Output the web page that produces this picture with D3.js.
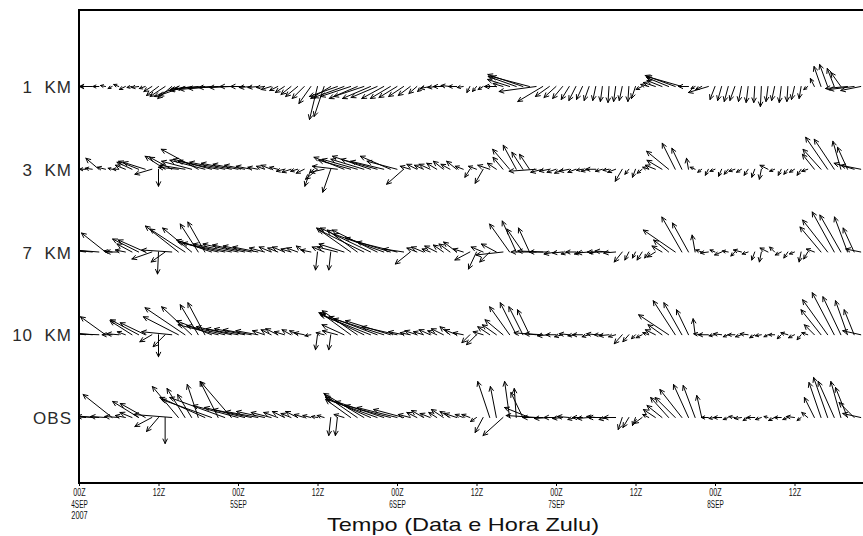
<!DOCTYPE html>
<html>
<head>
<meta charset="utf-8">
<script src="https://cdn.jsdelivr.net/npm/d3@7"></script>
<style>
  body { margin: 0; background: #fff; }
  svg { display: block; }
  .rowlab text { white-space: pre; }
</style>
</head>
<body>
<svg id="chart" width="863" height="536"></svg>
<script>
// Hourly wind vectors, 00Z 4SEP 2007 onwards (one value per hour).
// u: eastward component, v: northward component.
const rowNames = ["1  KM", "3  KM", "7  KM", "10  KM", "OBS"];

const u1km = [
  -3,-5,-13,-6,-5,-4,-5,-6,-5,-7,-6,-8,
  -12,-15,-14,-24,-26,-22,-28,-30,-32,-30,-26,-22,
  -18,-14,-12,-10,-8,-10,-8,-9,-10,-12,-12,-12,
  -8,-10,-20,-28,-30,-30,-28,-30,-28,-26,-22,-20,
  -18,-15,-12,-8,-6,-10,-9,-10,-9,-8,-6,-3,
  -4,-5,-2,-12,-10,-22,-28,-35,-38,-37,-25,-14,
  -12,-10,-8,-7,-6,-5,-3,-2,-1,-2,-3,-1,
  -4,-6,-8,-12,-15,-22,-30,-35,-10,-4,-6,-20,
  -5,-4,-4,-5,-3,-2,-1,-1,-2,-3,-2,-1,
  -3,-2,-4,-4,-7,-8,-7,-10,-22,-25,-20
];
const v1km = [
  0,0,0,0,1,-2,2,-3,-1,-1,-2,-5,
  -9,-10,-12,-10,-9,-4,-3,-2,-3,-2,-1,-1,
  0,0,-1,-1,-1,-3,-4,-6,-8,-10,-12,-17,
  -33,-30,-12,-10,-11,-10,-12,-10,-12,-11,-12,-12,
  -11,-10,-9,-7,-5,-2,-1,0,1,0,-1,-6,
  -5,-3,0,0,3,7,10,12,10,-5,-15,-10,
  -11,-12,-13,-14,-13,-14,-14,-15,-16,-15,-14,-15,
  -12,-3,2,4,6,9,11,10,0,-2,-3,-6,
  -13,-14,-15,-14,-15,-16,-16,-20,-15,-14,-16,-15,
  -13,-12,-3,8,20,22,18,14,-2,-3,-4
];

const u3km = [
  -5,-6,-7,-13,-8,-4,-6,-10,-15,-20,-22,-17,
  0,-20,-22,-20,-25,-30,-37,-35,-38,-40,-35,-30,
  -25,-20,-15,-10,-8,-10,-8,-8,-9,-7,-8,-6,
  -12,-14,-8,-25,-30,-32,-35,-33,-38,-36,-33,-30,
  -30,-17,-10,-10,-9,-11,-10,-10,-9,-10,-8,-5,
  -8,-8,-12,-9,-10,-17,-13,-11,-10,-27,-12,-10,
  -9,-8,-10,-8,-6,-8,-10,-7,-6,-8,-7,-4,
  -3,-5,-6,-10,-15,-22,-13,-10,-2,-5,-4,-3,
  -5,-3,-4,-6,-5,-4,-3,-2,-8,-5,-3,-4,
  -5,-4,-6,-12,-18,-22,-20,-8,-10,-20,-20
];
const v3km = [
  0,0,1,11,2,1,0,4,7,8,7,-5,
  -17,13,12,2,4,8,20,9,10,8,7,6,
  5,4,3,2,3,4,2,-2,-3,-2,-4,-17,
  -10,-3,-23,3,12,9,10,10,13,10,8,13,
  8,-15,3,5,4,5,6,8,5,8,3,-8,
  3,-14,4,6,12,20,24,17,15,-2,-3,-2,
  -3,-4,-2,-3,-1,-2,0,-2,-1,-3,-12,-5,
  -8,-4,2,4,9,18,26,21,11,2,-3,-6,
  -2,-7,-5,-2,-3,-6,-8,-10,4,-2,-6,-5,
  -3,-6,-2,15,20,32,30,28,22,6,4
];

const u7km = [
  -8,-15,-20,-25,-24,-8,-13,-10,-15,-26,-27,-20,
  -1,-14,-30,-33,-35,-29,-18,-17,-35,-40,-42,-38,
  -35,-32,-28,-25,-15,-12,-10,-12,-10,-11,-8,-10,
  -2,-12,-2,-20,-25,-34,-30,-45,-50,-45,-50,-45,
  -40,-20,-15,-10,-12,-8,-12,-10,-11,-13,-10,-15,
  -8,-12,-10,-15,-27,-20,-14,-16,-11,-25,-25,-20,
  -12,-10,-8,-10,-8,-12,-6,-15,-14,-12,-8,-4,
  -3,-5,-4,-8,-10,-15,-32,-20,-16,-3,-6,-8,
  -5,-7,-6,-4,-8,-6,-3,-2,-8,-5,-6,-4,
  -5,-2,-4,-8,-21,-25,-22,-21,-13,-11,-15
];
const v7km = [
  1,2,2,2,19,1,0,2,8,13,12,-7,
  -22,-10,2,26,23,24,28,30,12,10,9,8,
  8,7,6,5,4,5,4,5,3,4,6,2,
  -18,5,-18,5,8,24,22,22,24,22,18,14,
  10,3,-12,4,5,3,6,7,8,10,3,-8,
  -17,5,-10,8,-3,28,31,23,24,0,1,0,
  -2,-1,-2,0,-2,-1,-1,0,1,-1,-10,-8,
  -6,-8,-6,-5,6,12,22,35,29,17,2,-1,
  2,-3,1,-4,2,-2,-8,-10,4,5,-3,-6,
  -2,-10,-7,3,25,32,40,37,35,24,3
];

const u10km = [
  -10,-18,-22,-26,-25,-10,-12,-8,-22,-28,-25,-12,
  0,-12,-30,-35,-40,-30,-18,-17,-35,-40,-38,-35,
  -32,-30,-28,-22,-12,-10,-12,-10,-9,-8,-10,-6,
  -2,-8,-2,-15,-22,-30,-35,-45,-50,-48,-50,-45,
  -35,-15,-10,-12,-10,-11,-9,-12,-10,-12,-10,-8,
  -10,-10,-12,-14,-18,-20,-16,-14,-12,-22,-18,-12,
  -10,-8,-10,-8,-10,-7,-9,-8,-10,-7,-8,-6,
  -4,-6,-6,-10,-14,-30,-22,-18,-12,-2,-8,-10,
  -6,-8,-5,-7,-6,-8,-5,-6,-4,-6,-4,-7,
  -6,-4,-6,-10,-20,-25,-22,-18,-12,-10,-18
];
const v10km = [
  1,2,2,1,18,0,1,3,14,15,12,-7,
  -22,-12,3,18,27,28,30,32,14,10,9,8,
  6,6,5,4,4,5,6,3,5,4,2,-1,
  -15,2,-15,4,10,22,24,22,20,18,16,14,
  8,3,2,4,3,5,4,6,8,5,2,-8,
  -10,3,8,10,15,28,32,28,25,2,1,-1,
  0,-2,1,-1,0,-2,1,0,-1,-2,-9,-7,
  -4,-3,2,5,10,20,34,32,25,16,1,0,
  -1,1,-2,0,-2,1,-3,-1,-2,0,-4,2,
  -3,-5,2,10,25,35,42,38,34,25,4
];

const uObs = [
  -8,-12,-18,-22,-15,-29,-14,-10,-12,-26,-25,-17,
  -12,0,-38,-26,-18,-14,-11,-45,-50,-18,-55,-31,
  -45,-40,-38,-32,-28,-20,-14,-12,-10,-12,-10,-8,
  -6,-7,-2,-2,-10,-25,-32,-40,-45,-50,-48,-45,
  -40,-30,-12,-10,-12,-10,-8,-12,-10,-12,-8,-8,
  -6,-8,-12,-6,-20,-5,-2,-12,-25,-30,-20,-15,
  -12,-10,-12,-8,-10,-12,-9,-14,-10,-12,-4,-6,
  -3,-8,-6,-12,-15,-18,-20,-22,-15,-12,-5,-7,
  -6,-8,-5,-6,-7,-5,-8,-6,-4,-6,-7,-5,
  -8,-4,-6,-10,-12,-14,-16,-10,-12,-15,-18
];
const vObs = [
  1,1,2,1,1,23,1,2,5,16,14,-9,
  -14,-26,3,31,29,23,33,20,18,36,20,36,
  12,10,8,6,6,5,5,6,4,6,3,2,
  1,2,-18,-18,3,18,22,24,20,18,16,12,
  10,8,3,5,7,4,5,8,6,4,3,3,
  -4,-15,36,31,-18,36,29,25,10,2,0,-1,
  0,-1,1,-2,0,-1,1,0,-2,0,-12,-10,
  -8,-6,3,8,12,20,20,28,33,32,22,0,
  -1,0,-2,1,-1,-3,0,-2,1,-3,0,-2,
  1,-3,5,20,35,40,36,36,30,15,4
];

// Time axis labels, one per 12-hour tick
const hourLabels = ["00Z","12Z","00Z","12Z","00Z","12Z","00Z","12Z","00Z","12Z"];
const dayLabels  = ["4SEP","","5SEP","","6SEP","","7SEP","","8SEP",""];
const yearLabels = ["2007","","","","","","","","",""];
const xTitle = "Tempo (Data e Hora Zulu)";

const startTime = new Date(Date.UTC(2007, 8, 4, 0));
const endTime   = new Date(Date.UTC(2007, 8, 9, 0));

const series = [
  { name: rowNames[0], u: u1km,  v: v1km },
  { name: rowNames[1], u: u3km,  v: v3km },
  { name: rowNames[2], u: u7km,  v: v7km },
  { name: rowNames[3], u: u10km, v: v10km },
  { name: rowNames[4], u: uObs,  v: vObs }
];

const svg = d3.select("#chart");
const plot = { left: 79, right: 874, top: 10, bottom: 483 };

const x = d3.scaleUtc().domain([startTime, endTime]).range([plot.left, plot.right]);
const y = d3.scalePoint().domain(rowNames).range([86.5, 417.5]);
const vecLen = d3.scaleLinear().domain([0, 10]).range([0, 10]); // px per vector unit

// clip vectors to the frame
svg.append("defs").append("clipPath").attr("id", "plot-clip")
  .append("rect")
  .attr("x", plot.left + 1).attr("y", plot.top + 1)
  .attr("width", plot.right - plot.left - 2)
  .attr("height", plot.bottom - plot.top - 2);

function arrowPath(x1, y1, u, v) {
  const dx = vecLen(u), dy = -vecLen(v);
  const L = Math.hypot(dx, dy);
  if (L < 0.5) return "";
  const x2 = x1 + dx, y2 = y1 + dy;
  const a = Math.atan2(dy, dx);
  const h = Math.min(5, 1.6 + 0.3 * L);
  const w = 0.45;
  const p1 = [x2 - h * Math.cos(a - w), y2 - h * Math.sin(a - w)];
  const p2 = [x2 - h * Math.cos(a + w), y2 - h * Math.sin(a + w)];
  return `M${x1},${y1}L${x2},${y2}M${p1[0]},${p1[1]}L${x2},${y2}L${p2[0]},${p2[1]}`;
}

const vectors = svg.append("g").attr("clip-path", "url(#plot-clip)");
vectors.selectAll("g.row")
  .data(series)
  .join("g")
  .attr("class", "row")
  .selectAll("path")
  .data(s => s.u.map((u, i) => ({
    t: d3.utcHour.offset(startTime, i), u, v: s.v[i], row: s.name
  })))
  .join("path")
  .attr("d", d => arrowPath(x(d.t), y(d.row), d.u, d.v))
  .attr("fill", "none")
  .attr("stroke", "#000")
  .attr("stroke-width", 1)
  .attr("stroke-linecap", "round")
  .attr("stroke-linejoin", "round");

// frame
svg.append("path")
  .attr("d", `M${plot.left},${plot.top}H${plot.right}V${plot.bottom}H${plot.left}Z`)
  .attr("fill", "none")
  .attr("stroke", "#000")
  .attr("stroke-width", 2);

// level labels
const yAxis = svg.append("g")
  .attr("class", "rowlab")
  .attr("transform", `translate(72,0)`)
  .call(d3.axisLeft(y).tickSize(0).tickPadding(0));
yAxis.select(".domain").remove();
yAxis.selectAll("text")
  .attr("font-family", "'Liberation Sans', Arial, sans-serif")
  .attr("font-size", 17)
  .attr("letter-spacing", 1)
  .attr("fill", "#2a2a2a")
  .attr("dy", "0.36em");

// time axis: each tick carries a stacked hour / day / year label
const tickTimes = d3.utcHour.every(12).range(startTime, d3.utcHour.offset(startTime, 109));
const xAxis = svg.append("g")
  .attr("transform", `translate(0,${plot.bottom})`)
  .call(d3.axisBottom(x).tickValues(tickTimes).tickSize(3).tickFormat(() => ""));
xAxis.select(".domain").remove();
xAxis.selectAll(".tick line").attr("stroke", "#000").attr("stroke-width", 1);

xAxis.selectAll(".tick").each(function (d, i) {
  const lines = [hourLabels[i], dayLabels[i], yearLabels[i]].filter(Boolean);
  const label = d3.select(this).append("text")
    .attr("y", 13)
    .attr("text-anchor", "middle")
    .attr("font-family", "'Liberation Sans', Arial, sans-serif")
    .attr("font-size", 10)
    .attr("fill", "#111");
  lines.forEach((txt, k) => {
    label.append("tspan")
      .attr("x", 0)
      .attr("dy", k === 0 ? 0 : 11.5)
      .attr("textLength", txt.length * 4.1)
      .attr("lengthAdjust", "spacingAndGlyphs")
      .text(txt);
  });
});

svg.append("text")
  .attr("x", 463)
  .attr("y", 531)
  .attr("text-anchor", "middle")
  .attr("font-family", "'Liberation Sans', Arial, sans-serif")
  .attr("font-size", 19)
  .attr("fill", "#111")
  .attr("textLength", 272)
  .attr("lengthAdjust", "spacingAndGlyphs")
  .text(xTitle);
</script>
</body>
</html>
